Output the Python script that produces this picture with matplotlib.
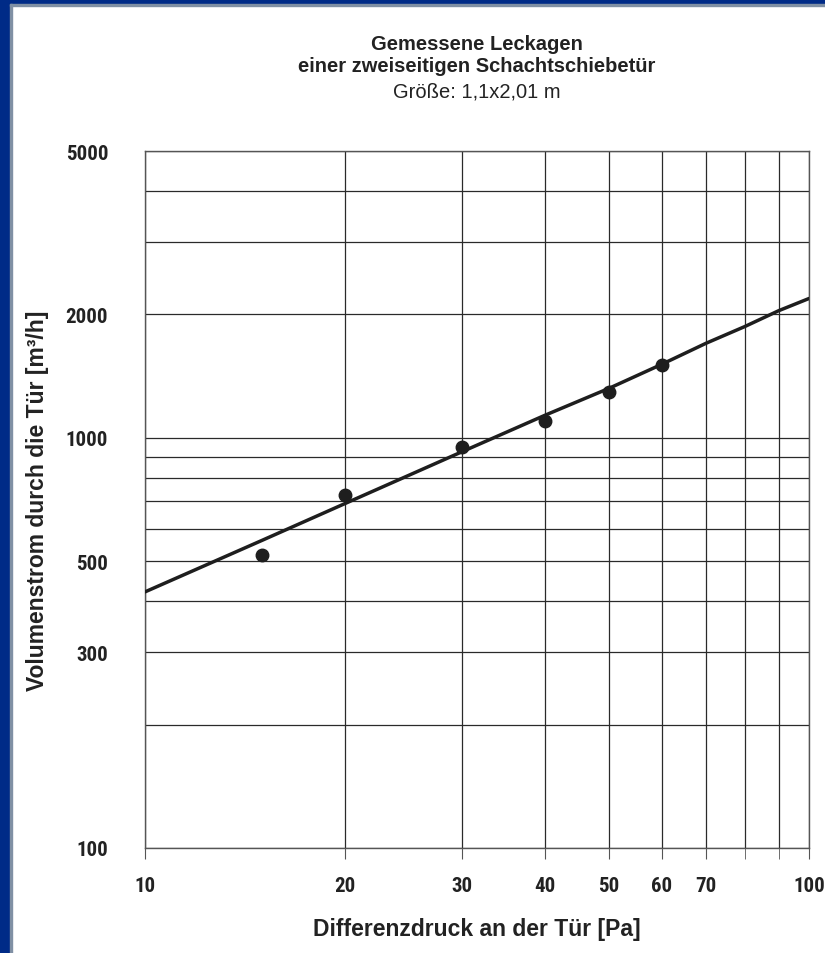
import matplotlib
matplotlib.use("Agg")
import matplotlib.pyplot as plt
from matplotlib.patches import Rectangle
from matplotlib.ticker import FixedLocator, NullFormatter, FixedFormatter

plt.rcParams['font.family'] = ['Liberation Sans', 'DejaVu Sans']
TICK_FONT = ['Roboto Condensed', 'Liberation Sans', 'DejaVu Sans']

# Measured leakage points
pressure_meas = [15, 20, 30, 40, 50, 60]
flow_meas = [518, 726, 951, 1100, 1294, 1507]

# Leakage characteristic curve
pressure_curve = [10, 15, 20, 30, 40, 50, 60, 70, 80, 90, 100]
flow_curve = [421, 562, 691, 924, 1134, 1320, 1510, 1700, 1866, 2040, 2185]

x_labels = [10, 20, 30, 40, 50, 60, 70, 100]
x_grid_extra = [80, 90]
y_labels = [100, 300, 500, 1000, 2000, 5000]
y_grid_extra = [200, 400, 600, 700, 800, 900, 3000, 4000]

W, H = 825, 954
fig = plt.figure(figsize=(W / 100, H / 100), dpi=100)
fig.patch.set_facecolor('white')

# Slide frame: blue band on left and top with a thin grey inner edge
blue = '#002b87'
grey = '#8090a4'
fig.patches.append(Rectangle((0, 0), 10 / W, 1, transform=fig.transFigure, color=blue, zorder=0))
fig.patches.append(Rectangle((0, 1 - 5 / H), 1, 5 / H, transform=fig.transFigure, color=blue, zorder=0))
fig.patches.append(Rectangle((10 / W, 0), 1.5 / W, 1 - 5 / H, transform=fig.transFigure, color=grey, zorder=0))
fig.patches.append(Rectangle((10 / W, 1 - 6.5 / H), 1, 1.5 / H, transform=fig.transFigure, color=grey, zorder=0))

ax = fig.add_axes([145 / W, 1 - 849 / H, (809 - 145) / W, (849 - 152) / H])
ax.set_xscale('log')
ax.set_yscale('log')
ax.set_xlim(10, 100)
ax.set_ylim(100, 5000)

ax.xaxis.set_major_locator(FixedLocator(x_labels))
ax.xaxis.set_major_formatter(FixedFormatter([str(v) for v in x_labels]))
ax.xaxis.set_minor_locator(FixedLocator(x_grid_extra))
ax.xaxis.set_minor_formatter(NullFormatter())
ax.yaxis.set_major_locator(FixedLocator(y_labels))
ax.yaxis.set_major_formatter(FixedFormatter([str(v) for v in y_labels]))
ax.yaxis.set_minor_locator(FixedLocator(y_grid_extra))
ax.yaxis.set_minor_formatter(NullFormatter())

ax.grid(True, which='both', color='#2a2a2a', linewidth=0.9)
ax.set_axisbelow(True)
for s in ax.spines.values():
    s.set_color('#555555')
    s.set_linewidth(1.0)

ax.tick_params(axis='x', which='both', direction='out', length=8, color='#555555', pad=12)
ax.tick_params(axis='y', which='both', length=0, pad=26.5)
for lab in ax.get_xticklabels() + ax.get_yticklabels():
    lab.set_fontfamily(TICK_FONT)
    lab.set_fontsize(15)
    lab.set_fontweight('bold')
    lab.set_color('#222222')

ax.plot(pressure_curve, flow_curve, color='#1e1e1e', linewidth=2.5, solid_capstyle='round', zorder=3)
ax.plot(pressure_meas, flow_meas, 'o', color='#1e1e1e', markersize=9, zorder=4)

ax.set_xlabel('Differenzdruck an der Tür [Pa]', fontsize=16.5, fontweight='bold', color='#222222', labelpad=16)
ax.set_ylabel('Volumenstrom durch die Tür [m³/h]', fontsize=16.5, fontweight='bold', color='#222222', labelpad=12)

cx = (145 + 809) / 2 / W
fig.text(cx, 1 - 45 / H, 'Gemessene Leckagen', ha='center', va='center', fontsize=14.5,
         fontweight='bold', color='#222222')
fig.text(cx, 1 - 66 / H, 'einer zweiseitigen Schachtschiebetür', ha='center', va='center',
         fontsize=14.5, fontweight='bold', color='#222222')
fig.text(cx, 1 - 92 / H, 'Größe: 1,1x2,01 m', ha='center', va='center', fontsize=14.5,
         color='#222222')

fig.savefig('out.png', dpi=100)
